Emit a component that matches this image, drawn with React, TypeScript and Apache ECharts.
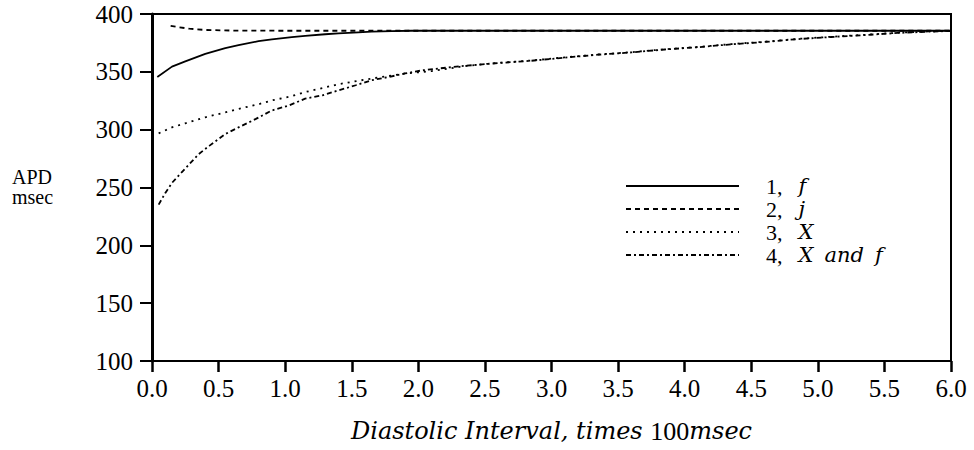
import React, { useEffect, useRef } from "react";
import * as echarts from "echarts";

// Series 1: f
const s1X = [0.04, 0.15, 0.25, 0.4, 0.55, 0.65, 0.8, 0.9, 1.05, 1.15, 1.3, 1.4, 1.55, 1.65, 1.8, 1.95, 2.2, 2.5, 3.0, 4.0, 5.0, 6.0];
const s1Y = [345.5, 354.5, 359, 365.5, 370.5, 373, 376.5, 378, 380, 381, 382.5, 383.2, 384.2, 384.8, 385.2, 385.5, 385.5, 385.5, 385.5, 385.5, 385.5, 385.5];
// Series 2: j
const s2X = [0.14, 0.2, 0.28, 0.4, 0.6, 1.0, 2.0, 3.0, 4.0, 5.0, 6.0];
const s2Y = [389.8, 388.6, 387.3, 386.2, 385.7, 385.5, 385.5, 385.5, 385.5, 385.5, 385.5];
// Series 3: X
const s3X = [0.05, 0.15, 0.25, 0.4, 0.55, 0.65, 0.8, 0.9, 1.05, 1.15, 1.3, 1.4, 1.55, 1.65, 1.8, 1.9, 2.1, 2.35, 2.6, 2.85, 3.1, 3.35, 3.6, 3.85, 4.1, 4.35, 4.6, 4.85, 5.1, 5.35, 5.6, 5.85, 6.0];
const s3Y = [296.8, 302, 305.5, 310.7, 315, 318, 322, 325.3, 329, 332.5, 336.5, 339.3, 342.3, 344.2, 346.8, 348.6, 350.6, 355, 357.8, 359.8, 362.5, 365, 367, 369.5, 371.5, 374, 376, 378.5, 380.3, 382, 383.8, 385, 385.5];
// Series 4: X and f
const s4X = [0.05, 0.1, 0.15, 0.23, 0.35, 0.43, 0.55, 0.65, 0.78, 0.9, 1.03, 1.15, 1.28, 1.4, 1.53, 1.65, 1.78, 1.9, 2.03, 2.16, 2.35, 2.6, 2.85, 3.1, 3.35, 3.6, 3.85, 4.1, 4.35, 4.6, 4.85, 5.1, 5.35, 5.6, 5.85, 6.0];
const s4Y = [235.2, 245.3, 254, 264, 278.8, 286, 296.2, 302, 309.3, 316.6, 321, 326.8, 329.7, 334, 338.4, 342.8, 345.6, 348.6, 351.3, 353, 355.2, 357.6, 359.6, 362.3, 364.8, 366.8, 369.3, 371.3, 373.8, 375.8, 378.3, 380.1, 381.8, 383.6, 384.8, 385.3];

const seriesNames = ["1, f", "2, j", "3, X", "4, X and f"];
const seriesNums = ["1,", "2,", "3,", "4,"];
const seriesSyms = ["f", "j", "X", "X and f"];

const FONT = "Liberation Serif";
const IFONT = "DejaVu Serif";

const zip = (xs: number[], ys: number[]) => xs.map((x, i) => [x, ys[i]]);

export default function App() {
  const ref = useRef<HTMLDivElement>(null);
  useEffect(() => {
    if (!ref.current) return;
    const chart = echarts.init(ref.current, undefined, { renderer: "svg" });
    const dashes: any[] = ["solid", [5, 4], [2, 5], [5, 3, 2, 3]];
    const datasets = [zip(s1X, s1Y), zip(s2X, s2Y), zip(s3X, s3Y), zip(s4X, s4Y)];
    chart.setOption({
      animation: false,
      textStyle: { fontFamily: FONT, color: "#000" },
      grid: {
        left: 152,
        right: 23,
        top: 14,
        bottom: 89,
        show: true,
        borderColor: "#000",
        borderWidth: 2,
      },
      legend: {
        orient: "vertical",
        left: 620,
        top: 170,
        itemWidth: 113,
        itemHeight: 10,
        itemGap: 1,
        data: seriesNames,
        itemStyle: { opacity: 0 },
        formatter: (name: string) => {
          const i = seriesNames.indexOf(name);
          const sym = seriesSyms[i]
            .split(" ")
            .map((w) => `{i|${w}}`)
            .join("{g| }");
          return `{n|${seriesNums[i]}}{s| }${sym}`;
        },
        textStyle: {
          padding: [0, 0, 0, 22],
          lineHeight: 20,
          rich: {
            n: { fontFamily: FONT, fontSize: 22, lineHeight: 20, color: "#000" },
            s: { fontFamily: FONT, fontSize: 22, lineHeight: 20, width: 16 },
            g: { fontFamily: FONT, fontSize: 22, lineHeight: 20, width: 11 },
            i: { fontFamily: IFONT, fontSize: 21, lineHeight: 20, fontStyle: "italic", color: "#000" },
          },
        },
      },
      xAxis: {
        type: "value",
        min: 0,
        max: 6,
        interval: 0.5,
        splitLine: { show: false },
        axisLine: { lineStyle: { color: "#000", width: 2 } },
        axisTick: { length: 11, lineStyle: { color: "#000", width: 2.5 } },
        axisLabel: {
          margin: 15,
          fontSize: 25,
          fontFamily: FONT,
          color: "#000",
          formatter: (v: number) => v.toFixed(1),
        },
        name: "{i|Diastolic Interval, times }{n|100}{i|msec}",
        nameLocation: "middle",
        nameGap: 57,
        nameTextStyle: {
          rich: {
            i: { fontFamily: IFONT, fontSize: 24, fontStyle: "italic", color: "#000" },
            n: { fontFamily: FONT, fontSize: 26, color: "#000" },
          },
        },
      },
      yAxis: {
        type: "value",
        min: 100,
        max: 400,
        interval: 50,
        splitLine: { show: false },
        axisLine: { lineStyle: { color: "#000", width: 3 } },
        axisTick: { length: 12, lineStyle: { color: "#000", width: 2 } },
        axisLabel: { margin: 19, fontSize: 25, fontFamily: FONT, color: "#000" },
      },
      graphic: [
        {
          type: "text",
          left: 12,
          top: 167,
          style: { text: "APD", fontFamily: FONT, fontSize: 20, lineHeight: 20, fill: "#000" },
        },
        {
          type: "text",
          left: 12,
          top: 187,
          style: { text: "msec", fontFamily: FONT, fontSize: 20, lineHeight: 20, fill: "#000" },
        },
      ],
      series: datasets.map((d, i) => ({
        name: seriesNames[i],
        type: "line",
        data: d,
        symbol: "none",
        showSymbol: false,
        lineStyle: { color: "#000", width: 1.8, type: dashes[i] },
        itemStyle: { color: "#000" },
      })),
    });
    return () => chart.dispose();
  }, []);
  return (
    <div
      ref={ref}
      style={{ position: "fixed", left: 0, top: 0, width: 974, height: 450, background: "#fff" }}
    />
  );
}
